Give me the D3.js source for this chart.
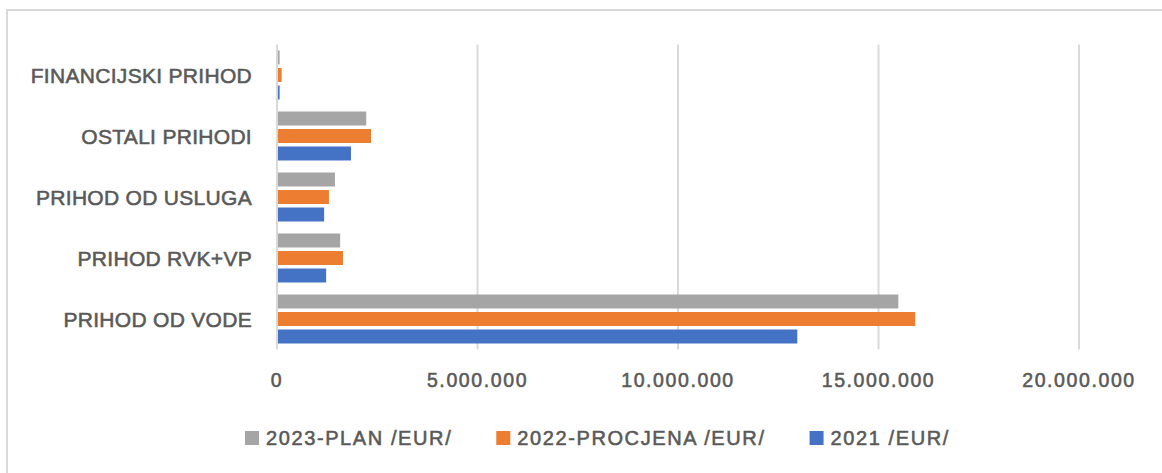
<!DOCTYPE html>
<html>
<head>
<meta charset="utf-8">
<script src="https://cdn.jsdelivr.net/npm/d3@7"></script>
<style>
  body { margin: 0; background: #fff; }
  text { font-family: "Liberation Sans", Arial, sans-serif; fill: #595959; stroke: #595959; stroke-width: 0.55px; }
</style>
</head>
<body>
<div class="canvas"></div>
<script>
// data
const categories = ['FINANCIJSKI PRIHOD', 'OSTALI PRIHODI', 'PRIHOD OD USLUGA', 'PRIHOD RVK+VP', 'PRIHOD OD VODE'];
const seriesNames = ['2023-PLAN /EUR/', '2022-PROCJENA /EUR/', '2021 /EUR/'];
const plan2023 = [40000, 2200000, 1420000, 1550000, 15470000];
const procjena2022 = [90000, 2320000, 1270000, 1620000, 15890000];
const year2021 = [40000, 1820000, 1150000, 1200000, 12950000];
const xTicks = [0, 5000000, 10000000, 15000000, 20000000];

const dims = { width: 1162, height: 473 };
const colour = d3.scaleOrdinal().domain(seriesNames).range(['#a5a5a5', '#ed7d31', '#4472c4']);

const svg = d3.select('.canvas')
  .append('svg')
  .attr('width', dims.width)
  .attr('height', dims.height);

// chart border
svg.append('rect')
  .attr('x', 7).attr('y', 10)
  .attr('width', 1170).attr('height', 480)
  .attr('fill', 'none')
  .attr('stroke', '#d9d9d9')
  .attr('stroke-width', 2);

const x = d3.scaleLinear().domain([0, 20000000]).range([277, 1079]);
const y = d3.scaleBand().domain(categories).range([44.5, 349.5]);
const inner = d3.scaleBand().domain(seriesNames).range([0, y.bandwidth()])
  .paddingInner(0.2).paddingOuter(0.343);

const locale = d3.formatLocale({ decimal: ',', thousands: '.', grouping: [3], currency: ['', ''] });
const fmt = locale.format(',.0f');

// gridlines
svg.append('g').selectAll('line')
  .data(xTicks)
  .enter().append('line')
    .attr('x1', d => x(d)).attr('x2', d => x(d))
    .attr('y1', 44.5).attr('y2', 349.5)
    .attr('stroke', '#d9d9d9')
    .attr('stroke-width', 2);

// tick labels
svg.append('g').selectAll('text')
  .data(xTicks)
  .enter().append('text')
    .attr('x', d => x(d))
    .attr('y', 387)
    .attr('text-anchor', 'middle')
    .attr('font-size', 19.5)
    .attr('letter-spacing', 1.6)
    .text(d => fmt(d));

// bars
const rows = categories.map((c, i) => ({
  cat: c,
  vals: [plan2023[i], procjena2022[i], year2021[i]]
}));

const groups = svg.append('g').selectAll('.node')
  .data(rows)
  .enter().append('g')
    .attr('class', 'node')
    .attr('transform', d => `translate(0, ${y(d.cat)})`);

groups.selectAll('rect')
  .data(d => d.vals.map((v, j) => ({ name: seriesNames[j], value: v })))
  .enter().append('rect')
    .attr('x', x(0) + 1)
    .attr('y', d => inner(d.name))
    .attr('width', d => x(d.value) - x(0))
    .attr('height', inner.bandwidth())
    .attr('fill', d => colour(d.name));

// category labels
svg.append('g').selectAll('text')
  .data(categories)
  .enter().append('text')
    .attr('x', 252)
    .attr('y', d => y(d) + y.bandwidth() / 2 + 7.5)
    .attr('text-anchor', 'end')
    .attr('font-size', 21)
    .attr('letter-spacing', 0.3)
    .text(d => d);

// legend
const legend = svg.append('g').attr('transform', 'translate(245, 431)');
let lx = 0;
seriesNames.forEach(name => {
  const item = legend.append('g').attr('transform', `translate(${lx}, 0)`);
  item.append('rect')
    .attr('width', 14).attr('height', 14)
    .attr('fill', colour(name));
  const t = item.append('text')
    .attr('x', 21)
    .attr('y', 13.5)
    .attr('font-size', 20)
    .attr('letter-spacing', 1.6)
    .text(name);
  lx += 21 + t.node().getComputedTextLength() + 44;
});
</script>
</body>
</html>
